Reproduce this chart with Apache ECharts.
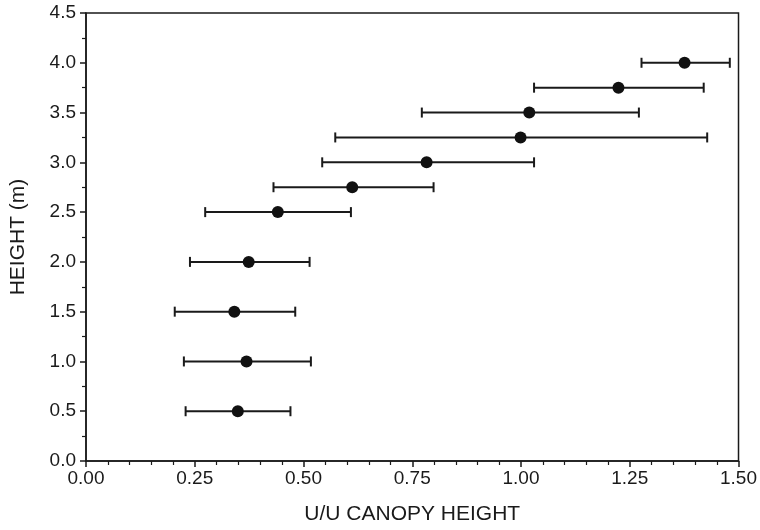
<!DOCTYPE html>
<html>
<head>
<meta charset="utf-8">
<script src="https://cdn.jsdelivr.net/npm/echarts@6/dist/echarts.min.js"></script>
<style>html,body{margin:0;padding:0;background:#fff}#c{width:760px;height:530px}</style>
</head>
<body>
<div id="c"></div>
<script>
var heights = [0.5, 1.0, 1.5, 2.0, 2.5, 2.75, 3.0, 3.25, 3.5, 3.75, 4.0];
var means   = [0.349, 0.369, 0.341, 0.374, 0.441, 0.612, 0.783, 0.999, 1.019, 1.224, 1.376];
var lows    = [0.229, 0.225, 0.204, 0.239, 0.274, 0.431, 0.543, 0.573, 0.772, 1.030, 1.277];
var highs   = [0.470, 0.517, 0.481, 0.514, 0.609, 0.799, 1.030, 1.428, 1.271, 1.420, 1.480];

var chart = echarts.init(document.getElementById('c'), null, {renderer: 'canvas'});
var pts = heights.map(function (h, i) { return [means[i], h]; });
var bars = heights.map(function (h, i) { return [lows[i], highs[i], h]; });
var txt = '#1a1a1a';
var fontFam = 'Liberation Sans, Arial, Helvetica, sans-serif';

chart.setOption({
  animation: false,
  backgroundColor: '#fff',
  grid: {left: 82, right: 17, top: 13, bottom: 62, show: true, borderColor: '#1a1a1a', borderWidth: 1.5, containLabel: false},
  xAxis: {
    type: 'value', min: 0, max: 1.5, interval: 0.25,
    name: 'U/U CANOPY HEIGHT', nameLocation: 'middle', nameGap: 43,
    nameTextStyle: {color: txt, fontSize: 21, fontFamily: fontFam},
    axisLine: {show: true, lineStyle: {color: '#1a1a1a', width: 1.5}},
    axisTick: {show: true, inside: false, length: 6, lineStyle: {color: '#1a1a1a', width: 1.5}},
    minorTick: {show: true, splitNumber: 5, length: 4, lineStyle: {color: '#1a1a1a', width: 1.2}},
    splitLine: {show: false},
    axisLabel: {color: txt, fontSize: 19, fontFamily: fontFam, margin: 8,
      formatter: function (v) { return v.toFixed(2); }}
  },
  yAxis: {
    type: 'value', min: 0, max: 4.5, interval: 0.5,
    name: 'HEIGHT (m)', nameLocation: 'middle', nameGap: 57, nameRotate: 90,
    nameTextStyle: {color: txt, fontSize: 21, fontFamily: fontFam},
    axisLine: {show: true, lineStyle: {color: '#1a1a1a', width: 1.5}},
    axisTick: {show: true, inside: false, length: 6, lineStyle: {color: '#1a1a1a', width: 1.5}},
    minorTick: {show: true, splitNumber: 2, length: 4, lineStyle: {color: '#1a1a1a', width: 1.2}},
    splitLine: {show: false},
    axisLabel: {color: txt, fontSize: 19, fontFamily: fontFam, margin: 10,
      formatter: function (v) { return v.toFixed(1); }}
  },
  series: [
    {
      type: 'custom',
      data: bars,
      z: 2,
      renderItem: function (params, api) {
        var y = api.value(2);
        var a = api.coord([api.value(0), y]);
        var b = api.coord([api.value(1), y]);
        var cap = 5;
        var st = {stroke: '#1a1a1a', lineWidth: 2};
        return {
          type: 'group',
          children: [
            {type: 'line', shape: {x1: a[0], y1: a[1], x2: b[0], y2: b[1]}, style: st},
            {type: 'line', shape: {x1: a[0], y1: a[1] - cap, x2: a[0], y2: a[1] + cap}, style: st},
            {type: 'line', shape: {x1: b[0], y1: b[1] - cap, x2: b[0], y2: b[1] + cap}, style: st}
          ]
        };
      }
    },
    {
      type: 'scatter',
      data: pts,
      z: 3,
      symbol: 'circle',
      symbolSize: 12,
      itemStyle: {color: '#111', opacity: 1}
    }
  ]
});
</script>
</body>
</html>
